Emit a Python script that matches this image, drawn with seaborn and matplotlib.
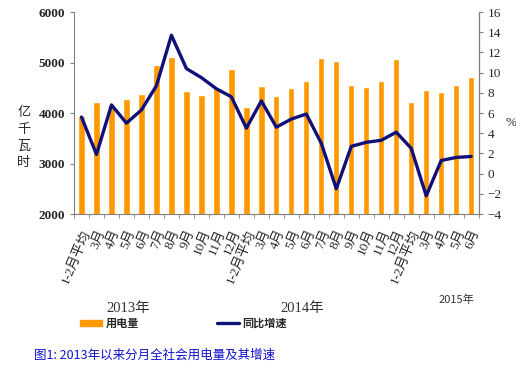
import numpy as np
import pandas as pd
import matplotlib
matplotlib.use('Agg')
import matplotlib.pyplot as plt
import seaborn as sns
from matplotlib.patches import Patch
from matplotlib.lines import Line2D

# 월별 데이터 (2013년 1-2월평균 ~ 2015년 6월)
months = ['1-2月平均', '3月', '4月', '5月', '6月', '7月', '8月', '9月', '10月', '11月', '12月',
          '1-2月平均', '3月', '4月', '5月', '6月', '7月', '8月', '9月', '10月', '11月', '12月',
          '1-2月平均', '3月', '4月', '5月', '6月']
power = [3940, 4225, 4160, 4270, 4375, 4945, 5100, 4440, 4365, 4490, 4870,
         4110, 4535, 4337, 4490, 4634, 5095, 5024, 4560, 4508, 4634, 5075,
         4224, 4450, 4416, 4560, 4713]
growth = [5.6, 1.9, 6.8, 5.0, 6.3, 8.7, 13.7, 10.4, 9.5, 8.4, 7.6,
          4.5, 7.2, 4.6, 5.4, 5.9, 3.0, -1.5, 2.7, 3.1, 3.3, 4.1,
          2.5, -2.2, 1.3, 1.6, 1.7]
years = ['2013年', '2014年', '2015年']

sns.set_style('ticks')
serif = ['Liberation Serif', 'Noto Sans CJK SC']
cjk = ['Noto Sans CJK SC', 'DejaVu Sans']
plt.rcParams['font.family'] = serif

df = pd.DataFrame({'pos': [str(i) for i in range(len(power))], 'power': power})

fig = plt.figure(figsize=(5.16, 3.74), dpi=100)
ax = fig.add_axes([0.1434, 0.4278, 0.7843, 0.5401])

sns.barplot(data=df, x='pos', y='power', color='#FF9900', width=0.42,
            saturation=1, ax=ax)
ax.set_ylim(2000, 6000)
ax.set_yticks([2000, 3000, 4000, 5000, 6000])
ax.set_yticklabels(['2000', '3000', '4000', '5000', '6000'], fontweight='bold', fontsize=9.5)
ax.set_xlim(-0.5, len(power) - 0.5)
ax.set_xticks(np.arange(len(power)))
ax.set_xticklabels(months, rotation=67, ha='right', rotation_mode='anchor', fontsize=9.5)
ax.set_xticks(np.arange(-0.5, len(power)), minor=True)
ax.tick_params(axis='x', which='major', length=0, pad=10)
ax.tick_params(axis='x', which='minor', length=3, color='#808080')
ax.tick_params(axis='y', length=3, color='#808080')
ax.set_xlabel('')
ax.set_ylabel('')
for s in ['left', 'bottom']:
    ax.spines[s].set_color('#808080')
ax.spines['top'].set_visible(False)

ax2 = ax.twinx()
sns.lineplot(x=np.arange(len(growth)), y=growth, color='#10107A', linewidth=2.4, ax=ax2)
ax2.set_ylim(-4, 16)
ax2.set_yticks(range(-4, 17, 2))
ax2.tick_params(axis='y', labelsize=9.5, length=3, color='#808080')
ax2.spines['right'].set_color('#808080')
ax2.spines['left'].set_visible(False)
ax2.spines['top'].set_visible(False)
ax2.spines['bottom'].set_visible(False)

# 축 제목
for ch, y in zip('亿千瓦时', [0.70, 0.655, 0.608, 0.565]):
    fig.text(0.046, y, ch, fontsize=9.5, family=cjk, ha='center', va='center')
fig.text(0.99, 0.672, '%', fontsize=9.5, ha='center', va='center')

# 연도 표시
fig.text(0.248, 0.176, years[0], fontsize=10.5, ha='center', va='center', color='#333333')
fig.text(0.585, 0.176, years[1], fontsize=10.5, ha='center', va='center', color='#333333')
fig.text(0.885, 0.198, years[2], fontsize=8, family=cjk, ha='center', va='center', color='#333333')

handles = [Patch(color='#FF9900'), Line2D([0], [0], color='#10107A', linewidth=2.4)]
fig.legend(handles, ['用电量', '同比增速'], loc='center', bbox_to_anchor=(0.355, 0.135), ncol=2,
           frameon=False, prop={'family': cjk, 'size': 8, 'weight': 'bold'},
           handlelength=2.0, handleheight=0.5, columnspacing=7, handletextpad=0.3)

fig.text(0.065, 0.05, '图1: 2013年以来分月全社会用电量及其增速', fontsize=9, family=cjk,
         color='#1010CC', ha='left', va='center')

fig.savefig('out.png', dpi=100)
